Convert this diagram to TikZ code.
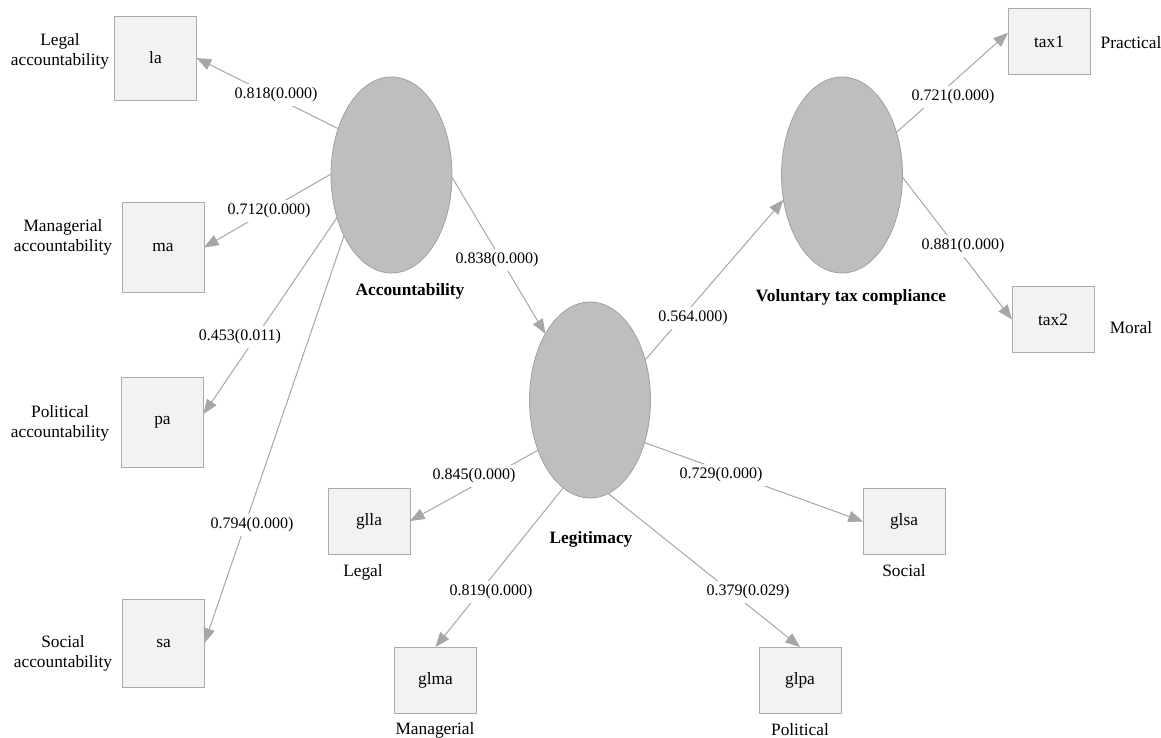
\documentclass[tikz,border=0pt]{standalone}
\usepackage{fontspec}
\setmainfont{Liberation Serif}
\usetikzlibrary{arrows.meta,shapes.geometric}
\definecolor{boxfill}{HTML}{F2F2F2}
\definecolor{boxline}{HTML}{ABABAB}
\definecolor{ellfill}{HTML}{BEBEBE}
\definecolor{ellline}{HTML}{A0A0A0}
\definecolor{edgecol}{HTML}{A6A6A6}
\begin{document}
\begin{tikzpicture}[x=0.75pt,y=-0.75pt,
  ind/.style={draw=boxline, fill=boxfill, line width=0.7pt, inner sep=0pt, outer sep=0pt,
    minimum width=61.5pt, font=\fontsize{13}{15}\selectfont},
  lat/.style={ellipse, draw=ellline, fill=ellfill, line width=0.6pt, minimum width=90.75pt,
    minimum height=147pt, inner sep=0pt, outer sep=0pt},
  lvname/.style={font=\fontsize{13}{15}\selectfont\bfseries, inner sep=0pt},
  desc/.style={font=\fontsize{13}{15}\selectfont, align=center, inner sep=0pt},
  coef/.style={fill=white, font=\fontsize{12}{14}\selectfont, inner sep=3pt},
  load/.style={draw=edgecol, line width=0.75pt, -{Triangle[length=11pt,width=8.5pt]}}
]
\useasboundingbox (0,0) rectangle (1161,738);

% latent variables
\node[lat] (acc) at (391.5,175) {};
\node[lat] (leg) at (590,400) {};
\node[lat] (vol) at (842,175) {};
\node[lvname] (accname) at (410,291) {Accountability};
\node[lvname] (legname) at (591,539) {Legitimacy};
\node[lvname] (volname) at (851,297) {Voluntary tax compliance};

% indicators
\node[ind, minimum height=63pt] (la) at (155.5,58) {la};
\node[ind, minimum height=68pt] (ma) at (163,247.5) {ma};
\node[ind, minimum height=67.5pt] (pa) at (162.5,422) {pa};
\node[ind, minimum height=66pt] (sa) at (163.5,643) {sa};
\node[ind, minimum height=49.5pt] (glla) at (369,521) {glla};
\node[ind, minimum height=49.5pt] (glma) at (435.5,680) {glma};
\node[ind, minimum height=49.5pt] (glpa) at (800,680) {glpa};
\node[ind, minimum height=49pt] (glsa) at (904,521.5) {glsa};
\node[ind, minimum height=49pt] (tax1) at (1049,41.5) {tax1};
\node[ind, minimum height=49pt] (tax2) at (1053,319.5) {tax2};

% descriptions
\node[desc] (dla) at (60,51) {Legal\\accountability};
\node[desc] (dma) at (63,237.5) {Managerial\\accountability};
\node[desc] (dpa) at (60,423.5) {Political\\accountability};
\node[desc] (dsa) at (63,653) {Social\\accountability};
\node[desc] (dglla) at (363,572) {Legal};
\node[desc] (dglma) at (435,730) {Managerial};
\node[desc] (dglpa) at (800,730) {Political};
\node[desc] (dglsa) at (904,571) {Social};
\node[desc] (dtax1) at (1131,43) {Practical};
\node[desc] (dtax2) at (1131,328) {Moral};

% paths
\draw[load] (acc.139) -- (la.east);
\draw[load] (acc.179) -- (ma.east);
\draw[load] (acc.218) -- (pa.11);
\draw[load] (acc.232) -- (sa.east);
\draw[load] (acc.358) -- (leg.124.5);
\draw[load] (leg.36) -- (vol.203);
\draw[load] (vol.38) -- (tax1.168);
\draw[load] (vol.358) -- (tax2.west);
\draw[load] (leg.224) -- (glla.east);
\draw[load] (leg.253) -- (glma.north);
\draw[load] (leg.281) -- (glpa.north);
\draw[load] (leg.322) -- (glsa.west);

% coefficients
\node[coef] (c1) at (276,95) {0.818(0.000)};
\node[coef] (c2) at (269,211) {0.712(0.000)};
\node[coef] (c3) at (240,337) {0.453(0.011)};
\node[coef] (c4) at (252,525) {0.794(0.000)};
\node[coef] (c5) at (497,260) {0.838(0.000)};
\node[coef] (c6) at (693,318) {0.564.000)};
\node[coef] (c7) at (953,97) {0.721(0.000)};
\node[coef] (c8) at (963,246) {0.881(0.000)};
\node[coef] (c9) at (474,476) {0.845(0.000)};
\node[coef] (c10) at (721,475) {0.729(0.000)};
\node[coef] (c11) at (491,592) {0.819(0.000)};
\node[coef] (c12) at (748,592) {0.379(0.029)};
\end{tikzpicture}
\end{document}
